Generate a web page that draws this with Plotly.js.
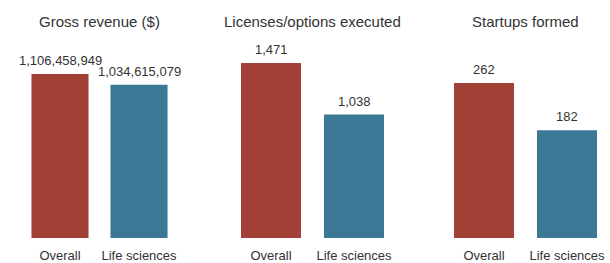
<!DOCTYPE html>
<html>
<head>
<meta charset="utf-8">
<script src="https://cdn.plot.ly/plotly-3.0.1.min.js"></script>
<style>html,body{margin:0;padding:0;background:#fff;}#chart{width:610px;height:263px;}</style>
</head>
<body>
<div id="chart"></div>
<script>
var categories = ["Overall", "Life sciences"];
var panelTitles = ["Gross revenue ($)", "Licenses/options executed", "Startups formed"];
var grossRevenue = [1106458949, 1034615079];
var licensesExecuted = [1471, 1038];
var startupsFormed = [262, 182];
var barColors = ["#A34139", "#3B7896"];

var seriesList = [grossRevenue, licensesExecuted, startupsFormed];
var domains = [[16.5/610, 182.5/610], [229.5/610, 395.5/610], [442.5/610, 608.5/610]];
var rangeFactor = [198/164, 198/175, 198/155];
var FONT = "Liberation Sans, Arial, Helvetica, sans-serif";
var TXT = "#333333";

function fmt(v){ return v.toLocaleString("en-US"); }

var data = [];
var annotations = [];
var layout = {
  width: 610, height: 263,
  margin: {l: 0, r: 0, t: 40, b: 25, pad: 0},
  paper_bgcolor: "#ffffff", plot_bgcolor: "#ffffff",
  showlegend: false,
  bargap: 23/83,
  font: {family: FONT, color: TXT, size: 13}
};

seriesList.forEach(function(vals, i){
  var xa = i === 0 ? "x" : "x" + (i + 1);
  var ya = i === 0 ? "y" : "y" + (i + 1);
  data.push({
    type: "bar", x: categories, y: vals,
    xaxis: xa, yaxis: ya,
    marker: {color: barColors},
    hoverinfo: "skip"
  });
  var xk = i === 0 ? "xaxis" : "xaxis" + (i + 1);
  var yk = i === 0 ? "yaxis" : "yaxis" + (i + 1);
  layout[xk] = {
    domain: domains[i], anchor: ya, type: "category",
    showgrid: false, zeroline: false, showline: false,
    ticks: "outside", ticklen: 5, tickcolor: "rgba(0,0,0,0)",
    tickfont: {family: FONT, size: 13, color: TXT},
    fixedrange: true
  };
  layout[yk] = {
    domain: [0, 1], anchor: xa,
    range: [0, Math.max.apply(null, vals) * rangeFactor[i]],
    visible: false, fixedrange: true
  };
  vals.forEach(function(v, j){
    annotations.push({
      xref: xa, yref: ya, x: categories[j], y: v,
      text: fmt(v), showarrow: false, xanchor: "center", yanchor: "bottom", yshift: 4,
      font: {family: FONT, size: 13, color: TXT}
    });
  });
  annotations.push({
    xref: "paper", yref: "paper",
    x: (domains[i][0] + domains[i][1]) / 2, y: 1,
    text: panelTitles[i], showarrow: false, xanchor: "center", yanchor: "middle", yshift: 19,
    font: {family: FONT, size: 15, color: TXT}
  });
});
layout.annotations = annotations;

Plotly.newPlot("chart", data, layout, {displayModeBar: false, staticPlot: true});
</script>
</body>
</html>
